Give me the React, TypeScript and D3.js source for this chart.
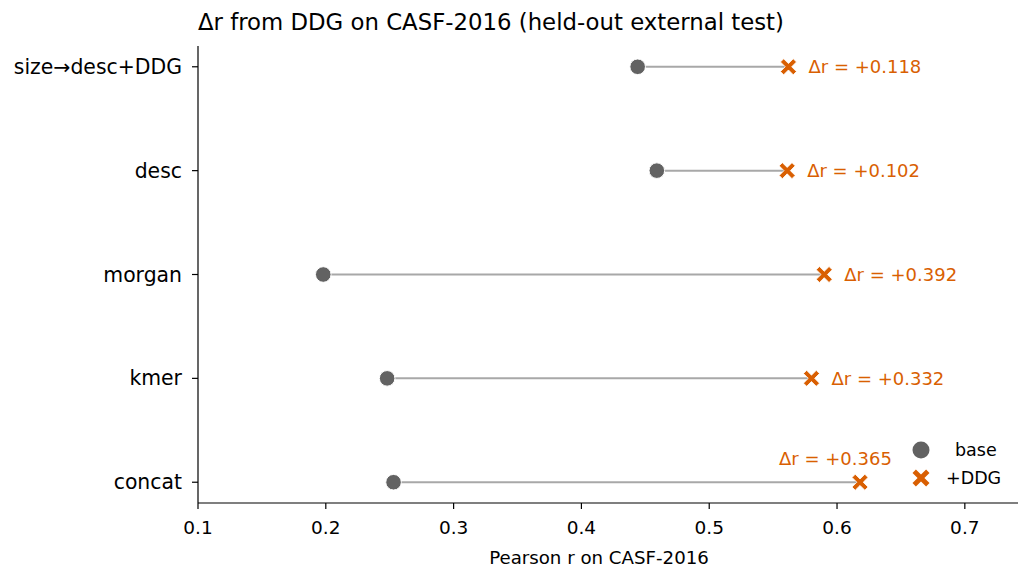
import React from "react";
import * as d3 from "d3";

const categories = ["size→desc+DDG", "desc", "morgan", "kmer", "concat"];
const baseR = [0.444, 0.459, 0.198, 0.248, 0.253];
const ddgR = [0.562, 0.561, 0.590, 0.580, 0.618];
const deltaLabels = ["+0.118", "+0.102", "+0.392", "+0.332", "+0.365"];
const xTicks = [0.1, 0.2, 0.3, 0.4, 0.5, 0.6, 0.7];

const W = 1020;
const H = 568;
const left = 198;
const right = 1018;
const top = 46;
const bottom = 503;

const BASE_COLOR = "#626262";
const DDG_COLOR = "#d95f02";
const FONT = "'DejaVu Sans', sans-serif";

// filled "X" marker path centred on origin
function xMarker(s: number): string {
  const a = s / 2;
  const t = s * 0.2;
  const pts: [number, number][] = [
    [-a, -a + t], [-a + t, -a], [0, -t], [a - t, -a], [a, -a + t], [t, 0],
    [a, a - t], [a - t, a], [0, t], [-a + t, a], [-a, a - t], [-t, 0],
  ];
  return "M" + pts.map((p) => p.join(",")).join("L") + "Z";
}

export default function App() {
  const x = d3.scaleLinear().domain([0.1, 0.618 * 1.2]).range([left, right]);
  const y = d3
    .scalePoint<string>()
    .domain(categories)
    .range([top, bottom])
    .padding(0.2);

  return (
    <svg width={W} height={H} style={{ position: "absolute", left: 0, top: 0, fontFamily: FONT }}>
      <rect width={W} height={H} fill="white" />
      <text x={left} y={30} fontSize={22.8} fill="#000">
        Δr from DDG on CASF-2016 (held-out external test)
      </text>

      {categories.map((c, i) => {
        const cy = y(c)!;
        const x0 = x(baseR[i]);
        const x1 = x(ddgR[i]);
        const isLast = i === categories.length - 1;
        return (
          <g key={c}>
            <line x1={x0} x2={x1} y1={cy} y2={cy} stroke="#a8a8a8" strokeWidth={2} />
            <circle cx={x0} cy={cy} r={7.8} fill={BASE_COLOR} stroke="white" strokeWidth={1} />
            <path d={xMarker(16)} transform={`translate(${x1},${cy})`} fill={DDG_COLOR} stroke="white" strokeWidth={0.8} />
            <text
              x={isLast ? x1 - 81 : x1 + 20}
              y={isLast ? cy - 24 : cy}
              dominantBaseline="central"
              fontSize={18}
              fill={DDG_COLOR}
            >
              {`Δr = ${deltaLabels[i]}`}
            </text>
          </g>
        );
      })}

      {/* axes */}
      <line x1={left} x2={left} y1={top} y2={bottom} stroke="#000" strokeWidth={1.2} />
      <line x1={left} x2={right} y1={bottom} y2={bottom} stroke="#000" strokeWidth={1.2} />
      {categories.map((c) => (
        <g key={"yt" + c}>
          <line x1={left - 6} x2={left} y1={y(c)!} y2={y(c)!} stroke="#000" strokeWidth={1.2} />
          <text x={left - 16} y={y(c)!} textAnchor="end" dominantBaseline="central" fontSize={20.4}>
            {c}
          </text>
        </g>
      ))}
      {xTicks.map((t) => (
        <g key={"xt" + t}>
          <line x1={x(t)} x2={x(t)} y1={bottom} y2={bottom + 6} stroke="#000" strokeWidth={1.2} />
          <text x={x(t)} y={bottom + 24} textAnchor="middle" dominantBaseline="central" fontSize={18.5}>
            {t.toFixed(1)}
          </text>
        </g>
      ))}
      <text x={599} y={564} textAnchor="middle" fontSize={18.2}>
        Pearson r on CASF-2016
      </text>

      {/* legend */}
      <circle cx={921} cy={450} r={8.5} fill={BASE_COLOR} />
      <text x={955} y={450} dominantBaseline="central" fontSize={17.5}>base</text>
      <path d={xMarker(17)} transform="translate(921,478)" fill={DDG_COLOR} />
      <text x={946} y={478} dominantBaseline="central" fontSize={17.5}>+DDG</text>
    </svg>
  );
}
